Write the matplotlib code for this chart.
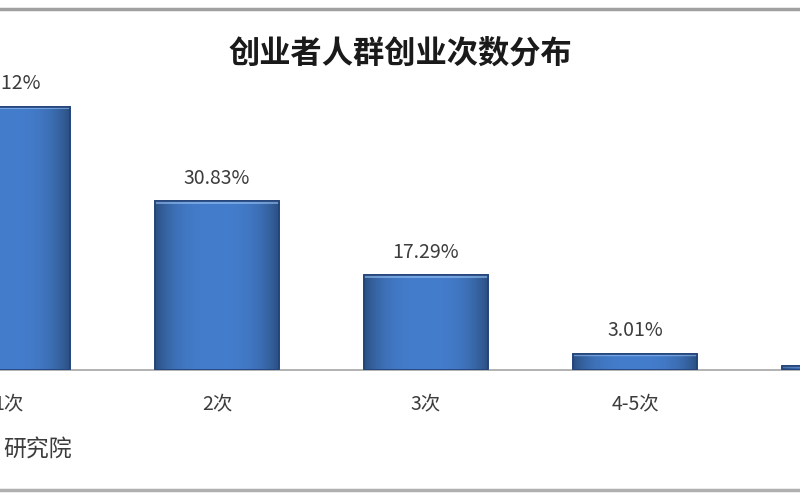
import numpy as np
import matplotlib
matplotlib.use('Agg')
import matplotlib.pyplot as plt
from matplotlib.lines import Line2D

plt.rcParams['font.family'] = ['Noto Sans CJK SC', 'DejaVu Sans']

# data (first and last bars are cut by the crop)
categories = ['1次', '2次', '3次', '4-5次', '6次及以上']
shares = [48.12, 30.83, 17.29, 3.01, 0.75]
title = '创业者人群创业次数分布'
source = '研究院'

fig = plt.figure(figsize=(8, 5), dpi=100)
ax = fig.add_axes([0, 0.26, 1, 0.56])

x = np.arange(len(categories))
bars = ax.bar(x, shares, width=0.593, color='#3b72c2', edgecolor='#22427a',
              linewidth=1.2, zorder=2)

# bevel-ish gradient inside each bar
prof = np.linspace(-1, 1, 64)
shade = 1 - 0.35 * np.abs(prof) ** 3
base = np.array([0x44, 0x7d, 0xcc]) / 255.0
for b in bars:
    x0, y0 = b.get_x(), b.get_y()
    w, h = b.get_width(), b.get_height()
    rows = max(int(h * 5.5), 6)
    img = np.ones((rows, 64, 3)) * base * shade[None, :, None]
    # lighter strip at the top edge
    img[:3] = img[:3] * 0.45 + 0.55 * np.array([0.62, 0.78, 0.96])
    im = ax.imshow(img, extent=(x0, x0 + w, y0, y0 + h), aspect='auto',
                   origin='upper', zorder=3, interpolation='bilinear')
    im.set_clip_path(b)
    ax.bar(b.get_x() + w / 2, h, width=w, fill=False, edgecolor='#22427a',
           linewidth=1.2, zorder=4)

for xi, v in zip(x, shares):
    ax.annotate(f'{v:.2f}%', (xi, v), xytext=(0, 9), textcoords='offset points',
                ha='center', va='bottom', fontsize=14, color='#3c3c3c')

ax.set_xticks(x)
ax.set_xticklabels(categories, fontsize=14, color='#3c3c3c')
ax.tick_params(axis='x', length=0, pad=17)
ax.set_yticks([])
ax.set_xlim(-0.0383, 3.789)
ax.set_ylim(0, 51.2)
for s in ['top', 'left', 'right']:
    ax.spines[s].set_visible(False)
ax.spines['bottom'].set_color('#a6a6a6')
ax.spines['bottom'].set_linewidth(1.2)
ax.set_facecolor('none')

fig.text(0.5, 0.892, title, ha='center', va='center', fontsize=22.5,
         fontweight='bold', color='#1a1a1a')
fig.text(0.004, 0.10, source, ha='left', va='center', fontsize=16.5, color='#3c3c3c')

# outer frame lines of the original chart
fig.add_artist(Line2D([0, 1], [0.982, 0.982], color='#a0a0a0', linewidth=2.5))
fig.add_artist(Line2D([0, 1], [0.02, 0.02], color='#b0b0b0', linewidth=2.5))

fig.savefig('out.png', dpi=100)
